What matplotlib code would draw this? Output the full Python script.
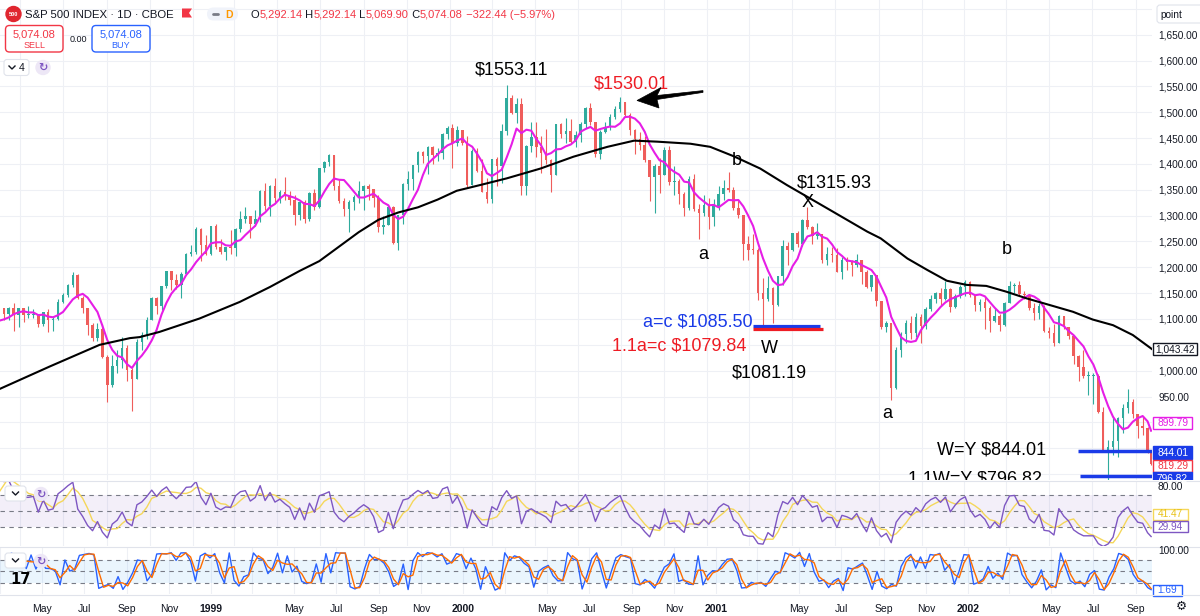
import numpy as np
import pandas as pd
import matplotlib
matplotlib.use("Agg")
import matplotlib.pyplot as plt
import matplotlib.dates as mdates
from matplotlib.patches import Rectangle, FancyBboxPatch, Circle, Polygon

plt.rcParams['font.family'] = ['Liberation Sans', 'DejaVu Sans']

# ---------------- data (weekly bars, first 3 weeks are before the visible window) ----------------
first_open = 1055
week_close = [
    1069, 1100, 1095,
    # 1998
    1122, 1110, 1122, 1107, 1121, 1108, 1108, 1110, 1091, 1113, 1098, 1100, 1133, 1146, 1165, 1186,
    1141, 1121, 1089, 1063, 1081, 1027, 973, 1009, 1020, 1044, 1002, 984, 1056, 1070, 1098, 1141,
    1125, 1163, 1192, 1176, 1166, 1188, 1226, 1229,
    # 1999
    1275, 1243, 1225, 1279, 1239, 1230, 1239, 1238, 1275, 1294, 1299, 1283, 1293, 1348, 1319, 1357,
    1335, 1346, 1337, 1330, 1302, 1327, 1294, 1343, 1316, 1392, 1404, 1418, 1357, 1329, 1313, 1327,
    1336, 1348, 1357, 1351, 1335, 1278, 1282, 1317, 1247, 1301, 1362, 1370, 1397, 1423, 1416, 1433,
    1418, 1421, 1458, 1469,
    # 2000
    1441, 1465, 1441, 1360, 1424, 1387, 1346, 1333, 1409, 1395, 1464, 1527, 1499, 1516, 1357, 1434,
    1452, 1433, 1421, 1407, 1378, 1477, 1457, 1464, 1442, 1455, 1478, 1509, 1481, 1420, 1462, 1471,
    1491, 1506, 1520, 1494, 1466, 1449, 1436, 1408, 1374, 1396, 1379, 1427, 1365, 1367, 1341, 1315,
    1370, 1312, 1305, 1320,
    # 2001
    1298, 1319, 1342, 1354, 1349, 1315, 1302, 1245, 1234, 1233, 1150, 1139, 1160, 1128, 1183, 1242,
    1234, 1267, 1246, 1292, 1277, 1260, 1265, 1214, 1225, 1224, 1190, 1215, 1211, 1205, 1214, 1191,
    1162, 1185, 1134, 1085, 1092, 966, 1040, 1071, 1092, 1073, 1104, 1087, 1120, 1139, 1150, 1139,
    1158, 1124, 1144, 1162,
    # 2002
    1172, 1146, 1128, 1133, 1122, 1096, 1105, 1089, 1131, 1164, 1166, 1149, 1147, 1122, 1112, 1125,
    1076, 1073, 1054, 1106, 1084, 1067, 1028, 1007, 990, 990, 990, 921, 847, 852, 864, 908,
    928, 940, 916, 893, 889, 846, 819.29,
]
week_high = [
    1071, 1101, 1106,
    1124, 1122, 1123, 1131, 1122, 1122, 1125, 1120, 1110, 1114, 1120, 1105, 1138, 1150, 1167, 1190,
    1188, 1144, 1121, 1092, 1092, 1090, 1030, 1030, 1040, 1066, 1050, 1005, 1062, 1075, 1103, 1142,
    1142, 1164, 1193, 1193, 1187, 1190, 1228, 1244,
    1278, 1276, 1262, 1280, 1283, 1254, 1240, 1272, 1276, 1308, 1317, 1300, 1310, 1350, 1364, 1360,
    1372, 1350, 1375, 1347, 1340, 1330, 1330, 1345, 1352, 1393, 1406, 1420, 1418, 1370, 1335, 1330,
    1340, 1367, 1360, 1361, 1352, 1340, 1300, 1320, 1318, 1302, 1363, 1387, 1398, 1425, 1425, 1435,
    1435, 1430, 1460, 1474,
    1478, 1473, 1465, 1454, 1429, 1430, 1410, 1372, 1410, 1414, 1478, 1553, 1533, 1527, 1528, 1436,
    1482, 1481, 1454, 1467, 1410, 1478, 1479, 1488, 1487, 1463, 1482, 1510, 1517, 1481, 1465, 1481,
    1496, 1512, 1530, 1520, 1499, 1468, 1462, 1454, 1408, 1400, 1411, 1432, 1434, 1395, 1370, 1345,
    1377, 1380, 1322, 1340,
    1335, 1333, 1357, 1369, 1384, 1355, 1330, 1302, 1260, 1264, 1237, 1180, 1183, 1162, 1184, 1253,
    1248, 1267, 1270, 1294, 1316, 1280, 1286, 1265, 1240, 1240, 1237, 1220, 1219, 1215, 1226, 1215,
    1195, 1186, 1185, 1135, 1096, 1092, 1045, 1075, 1099, 1106, 1111, 1110, 1124, 1146, 1152, 1160,
    1173, 1160, 1148, 1165,
    1176, 1173, 1146, 1138, 1142, 1125, 1122, 1110, 1132, 1173, 1170, 1174, 1155, 1148, 1131, 1130,
    1127, 1085, 1090, 1107, 1106, 1085, 1070, 1030, 1040, 1000, 995, 993, 930, 865, 912, 911,
    935, 965, 945, 917, 912, 892, 846,
]
week_low = [
    1046, 1068, 1091,
    1095, 1098, 1098, 1076, 1085, 1094, 1101, 1102, 1085, 1087, 1075, 1077, 1099, 1130, 1142, 1162,
    1138, 1112, 1070, 1058, 1058, 1025, 940, 968, 995, 1005, 980, 923, 984, 1040, 1061, 1098,
    1110, 1118, 1160, 1157, 1158, 1140, 1188, 1222,
    1226, 1212, 1224, 1223, 1235, 1225, 1214, 1225, 1221, 1268, 1286, 1256, 1280, 1288, 1310, 1300,
    1327, 1325, 1330, 1320, 1281, 1291, 1285, 1290, 1310, 1315, 1385, 1395, 1350, 1325, 1300, 1268,
    1310, 1325, 1310, 1330, 1317, 1268, 1265, 1282, 1245, 1233, 1284, 1350, 1350, 1385, 1402, 1380,
    1400, 1405, 1410, 1448,
    1392, 1434, 1436, 1356, 1360, 1385, 1345, 1325, 1325, 1357, 1364, 1455, 1497, 1480, 1340, 1339,
    1423, 1413, 1382, 1400, 1346, 1378, 1451, 1440, 1440, 1433, 1443, 1470, 1476, 1413, 1410, 1459,
    1465, 1486, 1500, 1490, 1455, 1420, 1427, 1404, 1329, 1305, 1343, 1379, 1360, 1340, 1322, 1300,
    1310, 1308, 1255, 1300,
    1274, 1280, 1310, 1330, 1345, 1310, 1295, 1215, 1214, 1225, 1136, 1081, 1135, 1092, 1126, 1165,
    1205, 1232, 1240, 1242, 1275, 1245, 1255, 1208, 1205, 1210, 1190, 1178, 1195, 1183, 1200, 1168,
    1160, 1155, 1126, 1080, 1074, 944, 965, 1026, 1053, 1061, 1065, 1054, 1080, 1115, 1130, 1126,
    1136, 1114, 1122, 1140,
    1145, 1142, 1115, 1115, 1081, 1074, 1094, 1077, 1086, 1131, 1151, 1145, 1139, 1118, 1098, 1100,
    1075, 1063, 1048, 1053, 1080, 1062, 1012, 981, 985, 953, 935, 918, 845, 775, 837, 833,
    880, 918, 908, 870, 876, 840, 817,
]
ma200_dates = ['1998-04-01', '1998-06-12', '1998-08-22', '1998-10-04', '1998-10-18', '1998-11-15',
               '1999-01-11', '1999-03-09', '1999-04-21', '1999-06-02', '1999-06-30', '1999-07-28',
               '1999-08-25', '1999-09-22', '1999-10-20', '1999-11-17', '1999-12-15', '2000-01-11',
               '2000-02-13', '2000-03-22', '2000-05-09', '2000-06-25', '2000-08-12', '2000-09-19',
               '2000-10-22', '2000-12-08', '2001-01-05', '2001-02-07', '2001-03-17', '2001-04-24',
               '2001-05-22', '2001-06-29', '2001-08-16', '2001-09-04', '2001-10-12', '2001-11-09',
               '2001-12-07', '2002-01-04', '2002-02-01', '2002-03-01', '2002-03-30', '2002-04-27',
               '2002-06-04', '2002-07-02', '2002-07-31', '2002-08-28', '2002-09-25']
ma200_vals = [964, 1008, 1050, 1063, 1065, 1075, 1101, 1133, 1162, 1193, 1212, 1240,
              1268, 1292, 1306, 1316, 1331, 1348, 1359, 1372, 1391, 1414, 1433, 1445,
              1443, 1439, 1433, 1415, 1391, 1359, 1337, 1307, 1269, 1256, 1217, 1195,
              1174, 1166, 1164, 1153, 1140, 1129, 1114, 1099, 1088, 1069, 1041]

price_ticks = [950, 1000, 1100, 1150, 1200, 1250, 1300, 1350, 1400, 1450, 1500, 1550, 1600, 1650]
level_ac, level_11ac = 1085.50, 1079.84
level_wy, level_11wy = 844.01, 796.82
last_ma200, last_ma, last_close = 1043.42, 899.79, 819.29
rsi_last, rsi_ma_last, stoch_last = 29.94, 41.47, 1.69
header_ohlc = [('O', 0), ('5,292.14', 1), (' H', 0), ('5,292.14', 1), (' L', 0), ('5,069.90', 1),
               (' C', 0), ('5,074.08', 1), (' \u2212322.44 (\u22125.97%)', 1)]

# ---------------- colours ----------------
UP, DOWN = '#2fab9d', '#ef5d5b'
MAG, BLUE, RED, TXT = '#e61ee6', '#1a3be8', '#ee1c24', '#131722'
GRID = '#eef0f5'

# ---------------- figure & axes ----------------
W, H = 1200, 616
fig = plt.figure(figsize=(12, 6.16), dpi=100)
fig.patch.set_facecolor('white')
PW = 1152
ax = fig.add_axes([0, 1 - 480 / H, PW / W, 480 / H])
ax_r = fig.add_axes([0, 1 - 546 / H, PW / W, 65 / H])
ax_s = fig.add_axes([0, 1 - 594 / H, PW / W, 47 / H])

PXD = 0.7043  # px per day
PPP = 0.517   # px per index point
d0 = mdates.date2num(pd.Timestamp('1998-05-01'))
X0 = d0 - 20 / PXD
X1 = X0 + PW / PXD
Y1 = 1000 + 370.7 / PPP
Y0 = Y1 - 480 / PPP

for a in (ax, ax_r, ax_s):
    a.set_xlim(X0, X1)
    for s in a.spines.values():
        s.set_visible(False)
    a.tick_params(axis='both', length=0)
    a.set_facecolor('white')

grid_dates = pd.date_range('1998-03-01', '2002-09-01', freq='2MS')
gx = mdates.date2num(grid_dates)
for a in (ax, ax_r, ax_s):
    for g in gx:
        a.axvline(g, color=GRID, lw=0.8, zorder=0)

# ---------------- main price pane ----------------
ax.set_ylim(Y0, Y1)
for lv in range(800, 1701, 50):
    ax.axhline(lv, color=GRID, lw=0.8, zorder=0)

c = np.array(week_close, float)
hi = np.array(week_high, float)
lo = np.array(week_low, float)
o = np.r_[first_open, c[:-1]]
hi = np.maximum(hi, np.maximum(o, c))
lo = np.minimum(lo, np.minimum(o, c))
dates = pd.date_range('1998-03-13', periods=len(c), freq='W-FRI')
xc = mdates.date2num(dates) - 2.0
xc[-1] = mdates.date2num(pd.Timestamp('2002-09-23'))  # partial last week (Mon-Tue)
cols = np.where(c >= o, UP, DOWN)
ax.vlines(xc, lo, hi, colors=cols, lw=0.8, zorder=2)
body_h = np.maximum(np.abs(c - o), 1.5)
ax.bar(xc, body_h, bottom=np.minimum(o, c), width=3.6, color=cols, zorder=3, linewidth=0)

ma = pd.Series(c).rolling(6, min_periods=1).mean()
ax.plot(xc, ma, color=MAG, lw=1.5, zorder=4)
ax.plot(mdates.date2num(pd.to_datetime(ma200_dates)), ma200_vals, color='black', lw=1.5, zorder=4)

ax.yaxis.tick_right()
ax.set_yticks(price_ticks)
ax.set_yticklabels([f'{v:,.2f}' for v in price_ticks])
ax.tick_params(axis='y', pad=4.5, labelsize=7.3, labelcolor=TXT)
ax.set_xticks([])


def P(x, y):
    return X0 + x / PXD, Y1 - y / PPP


# wave level lines
ax.hlines(level_ac, P(753, 0)[0], P(820, 0)[0], color=BLUE, lw=2.3, zorder=6)
ax.hlines(level_11ac, P(753, 0)[0], P(823, 0)[0], color=RED, lw=2.3, zorder=6)
ax.hlines(level_wy, P(1078, 0)[0], X1, color=BLUE, lw=2.5, zorder=6)
ax.hlines(level_11wy, P(1080, 0)[0], X1, color=BLUE, lw=2.5, zorder=6)

# annotation texts (pixel placement)
FS = 13


def T(x, y, s, color='black', ha='center', clip=False):
    xx, yy = P(x, y)
    ax.text(xx, yy, s, color=color, ha=ha, va='baseline', fontsize=FS, zorder=7, clip_on=clip)


T(511.5, 75, '$1553.11')
T(631.5, 88.3, '$1530.01', RED)
T(736.7, 165, 'b')
T(834, 187.3, '$1315.93')
T(808, 207, 'X')
T(703.7, 259.3, 'a')
T(752.7, 326, 'a=c $1085.50', BLUE, ha='right')
T(746, 350, '1.1a=c $1079.84', RED, ha='right')
T(769.5, 353.3, 'W')
T(769.5, 377.3, '$1081.19')
T(887.5, 418.3, 'a')
T(1006.7, 254.3, 'b')
T(1046, 455, 'W=Y $844.01', ha='right')
T(1041.7, 483.5, '1.1W=Y $796.82', ha='right', clip=True)

# arrow
head = [P(637, 100.5), P(661, 87.5), P(657, 95.5), P(703, 90.6), P(703, 92.4), P(657, 99.5), P(659, 108)]
ax.add_patch(Polygon(head, closed=True, fc='black', ec='black', lw=0.5, zorder=7))

# ---------------- RSI pane ----------------
cs = pd.Series(c)
delta = cs.diff()
gain = delta.clip(lower=0)
loss = -delta.clip(upper=0)
ag = gain.ewm(alpha=1 / 5, adjust=False).mean()
al = loss.ewm(alpha=1 / 5, adjust=False).mean()
rsi = 100 - 100 / (1 + ag / al.replace(0, np.nan))
rsi = rsi.fillna(50)
rsi_ma = rsi.rolling(4, min_periods=1).mean()
ax_r.set_ylim(5.6, 87.7)
ax_r.axhspan(30, 70, color='#7e57c2', alpha=0.09, lw=0, zorder=0)
for lv in (70, 50, 30):
    ax_r.axhline(lv, color='#787b86', lw=0.8, ls=(0, (4, 4)), zorder=1)
ax_r.plot(xc, rsi_ma, color='#f5d75a', lw=1.0, zorder=2)
ax_r.plot(xc, rsi, color='#7e57c2', lw=1.0, zorder=3)
ax_r.set_xticks([])
ax_r.set_yticks([])

# ---------------- Stochastic pane ----------------
ll = pd.Series(lo).rolling(3, min_periods=1).min()
hh = pd.Series(hi).rolling(3, min_periods=1).max()
k = 100 * (cs - ll) / (hh - ll)
dline = k.rolling(2, min_periods=1).mean()
ax_s.set_ylim(-9, 114)
ax_s.axhspan(20, 80, color='#2196f3', alpha=0.09, lw=0, zorder=0)
for lv in (80, 50, 20):
    ax_s.axhline(lv, color='#787b86', lw=0.8, ls=(0, (4, 4)), zorder=1)
ax_s.plot(xc, k, color='#2962ff', lw=1.0, zorder=2)
ax_s.plot(xc, dline, color='#ff6d00', lw=1.0, zorder=3)
ax_s.set_yticks([])
ax_s.set_xticks(gx)
labels = []
for d in grid_dates:
    if d.month == 1:
        labels.append(str(d.year))
    elif d.month == 3:
        labels.append('')
    else:
        labels.append(d.strftime('%b'))
ax_s.set_xticklabels(labels)
ax_s.tick_params(axis='x', pad=7, labelsize=7.5, labelcolor=TXT)
for lab in ax_s.get_xticklabels():
    if lab.get_text().isdigit():
        lab.set_fontweight('bold')

# ---------------- overlay in pixel coordinates ----------------
ov = fig.add_axes([0, 0, 1, 1], zorder=10)
ov.set_xlim(0, W)
ov.set_ylim(H, 0)
ov.axis('off')
ov.patch.set_alpha(0)

# pane separators
for yy in (480.5, 546.5, 594.5):
    ov.plot([0, W], [yy, yy], color='#e0e3eb', lw=0.8)


def tag(y, text, fc, ec, tc, x0=1153, x1=1192, h=12.5, clip=None):
    r = Rectangle((x0, y - h / 2), x1 - x0, h, fc=fc, ec=ec, lw=1)
    ov.add_patch(r)
    t = ov.text((x0 + x1) / 2, y + 0.3, text, ha='center', va='center', fontsize=7.3, color=tc)
    if clip is not None:
        r.set_clip_path(clip)
        t.set_clip_path(clip)


clip_main = Rectangle((1140, 0), 60, 480, transform=ov.transData)
tag(349, f'{last_ma200:,.2f}', 'white', TXT, TXT, x1=1197)
tag(423, f'{last_ma:,.2f}', 'white', MAG, MAG)
tag(452.5, f'{level_wy:,.2f}', BLUE, BLUE, 'white')
tag(466, f'{last_close:,.2f}', 'white', '#f23645', '#f23645')
tag(478.5, f'{level_11wy:,.2f}', BLUE, BLUE, 'white', clip=clip_main)
tag(514, f'{rsi_ma_last:.2f}', 'white', '#f5d75a', '#e8c21a', x1=1188, h=11)
tag(526.5, f'{rsi_last:.2f}', 'white', '#7e57c2', '#7e57c2', x1=1188, h=11)
tag(590, f'{stoch_last:.2f}', 'white', '#2962ff', '#2962ff', x1=1182, h=11)
ov.text(1158, 487, '80.00', ha='left', va='center', fontsize=7.3, color=TXT)
ov.text(1158, 551.5, '100.00', ha='left', va='center', fontsize=7.3, color=TXT)

# "point" box
ov.add_patch(FancyBboxPatch((1157, 5), 50, 18, boxstyle='round,pad=0,rounding_size=3', fc='white',
                            ec='#e0e3eb', lw=0.8))
ov.text(1160, 14.5, 'point', ha='left', va='center', fontsize=7.3, color=TXT)
# settings gear
ov.text(1181, 606, '\u2699', ha='center', va='center', fontsize=9, color=TXT, family='DejaVu Sans')

# header
ov.add_patch(Circle((13.5, 14), 7.5, color='#e0262f'))
ov.text(13.5, 14.3, '500', ha='center', va='center', fontsize=4.0, color='white', fontweight='bold')
ov.text(25, 14.5, 'S&P 500 INDEX \u00b7 1D \u00b7 CBOE', ha='left', va='center', fontsize=8.2, color=TXT)
ov.add_patch(Polygon([(182, 8.5), (192, 8.5), (189, 13), (192, 17.5), (182, 17.5)], closed=True,
                     fc='#f23645', ec='none'))
ov.add_patch(FancyBboxPatch((207, 7.5), 31, 13, boxstyle='round,pad=0,rounding_size=6.5',
                            fc='#f0f3fa', ec='none'))
ov.plot([212.5, 218], [14, 14], color='#787b86', lw=2, solid_capstyle='round')
ov.text(229.5, 14.5, 'D', ha='center', va='center', fontsize=7.5, color='#ff9800', fontweight='bold')

fig.canvas.draw()
rend = fig.canvas.get_renderer()
xpos = 250.5
for s, red in header_ohlc:
    t = ov.text(xpos, 14.5, s, ha='left', va='center', fontsize=8, color='#f23645' if red else TXT)
    bb = t.get_window_extent(rend)
    xpos += bb.width

ov.add_patch(FancyBboxPatch((5.5, 25.5), 57.5, 26.5, boxstyle='round,pad=0,rounding_size=4',
                            fc='white', ec='#f23645', lw=1))
ov.text(34.2, 34.5, '5,074.08', ha='center', va='center', fontsize=8, color='#f23645')
ov.text(34.2, 45.5, 'SELL', ha='center', va='center', fontsize=6.5, color='#f23645')
ov.text(78, 40, '0.00', ha='center', va='center', fontsize=6.5, color=TXT)
ov.add_patch(FancyBboxPatch((92, 25.5), 58, 26.5, boxstyle='round,pad=0,rounding_size=4',
                            fc='white', ec='#2962ff', lw=1))
ov.text(121, 34.5, '5,074.08', ha='center', va='center', fontsize=8, color='#2962ff')
ov.text(121, 45.5, 'BUY', ha='center', va='center', fontsize=6.5, color='#2962ff')


def selector(x0, y0, w, h, txt=None):
    ov.add_patch(FancyBboxPatch((x0, y0), w, h, boxstyle='round,pad=0,rounding_size=3',
                                fc='white', ec='#e0e3eb', lw=0.8))
    cx = x0 + (8 if txt else w / 2)
    cy = y0 + h / 2
    ov.plot([cx - 3, cx, cx + 3], [cy - 1.5, cy + 1.5, cy - 1.5], color=TXT, lw=1)
    if txt:
        ov.text(x0 + 18, cy + 0.5, txt, ha='center', va='center', fontsize=7.5, color=TXT)


def cycle(x, y, r=7):
    ov.add_patch(Circle((x, y), r, color='#ede7f6'))
    ov.text(x, y + 0.5, '\u21bb', ha='center', va='center', fontsize=8, color='#7e57c2',
            family='DejaVu Sans', fontweight='bold')


selector(4, 59.5, 25, 16, '4')
cycle(43, 67.5)
selector(5, 486, 21, 15)
cycle(41, 494, 6.5)
selector(5, 553, 21, 15)
cycle(41, 561, 6.5)
ov.text(20.5, 579, '17', ha='center', va='center', fontsize=10.5, color='black', fontweight='bold',
        family='DejaVu Sans')

fig.savefig('out.png', dpi=100, facecolor='white')
